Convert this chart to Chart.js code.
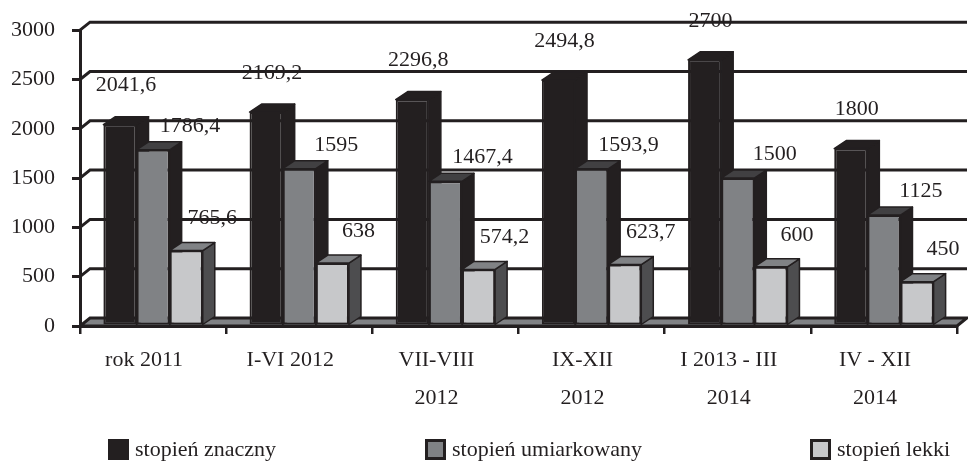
<!DOCTYPE html>
<html>
<head>
<meta charset="utf-8">
<script src="https://cdn.jsdelivr.net/npm/chart.js@4"></script>
<style>
  body { margin: 0; background: #fff; }
  #wrap { position: relative; width: 968px; height: 464px; }
  .leg { position: absolute; top: 436px; display: flex; align-items: center; font: 22px "Liberation Serif", "Times New Roman", serif; color: #231f20; white-space: nowrap; }
  .leg i { display: inline-block; width: 21px; height: 21px; box-sizing: border-box; margin-right: 6px; }
</style>
</head>
<body>
<div id="wrap">
  <canvas id="chart" width="968" height="464"></canvas>
  <div class="leg" style="left:108px"><i style="background:#231f20"></i>stopień znaczny</div>
  <div class="leg" style="left:425px"><i style="background:#808285;border:3px solid #231f20"></i>stopień umiarkowany</div>
  <div class="leg" style="left:810px"><i style="background:#c7c8ca;border:3px solid #231f20"></i>stopień lekki</div>
</div>
<script>
const categories = ['rok 2011', 'I-VI 2012', ['VII-VIII', '2012'], ['IX-XII', '2012'], ['I 2013 - III', '2014'], ['IV - XII', '2014']];
const seriesNames = ['stopień znaczny', 'stopień umiarkowany', 'stopień lekki'];
const znaczny = [2041.6, 2169.2, 2296.8, 2494.8, 2700, 1800];
const umiarkowany = [1786.4, 1595, 1467.4, 1593.9, 1500, 1125];
const lekki = [765.6, 638, 574.2, 623.7, 600, 450];

const INK = '#231f20';
const FONT = '"Liberation Serif", "Times New Roman", serif';
// front, top, side colours + label offset for each series
const looks = [
  { front: '#231f20', top: '#231f20', side: '#231f20', lx: 6, ly: -39 },
  { front: '#808285', top: '#414042', side: '#231f20', lx: 37, ly: -24 },
  { front: '#c7c8ca', top: '#808285', side: '#4d4d4f', lx: 26, ly: -32 }
];
const BAR_DX = 12, BAR_DY = -8;
const WALL_DX = 10, WALL_DY = -8;

const fmt = v => String(v).replace('.', ',');

const threeD = {
  id: 'threeD',
  beforeDatasetsDraw(chart) {
    const { ctx, chartArea: a, scales: { y } } = chart;
    ctx.save();
    // floor
    ctx.beginPath();
    ctx.moveTo(a.left, a.bottom);
    ctx.lineTo(a.right, a.bottom);
    ctx.lineTo(a.right + WALL_DX, a.bottom + WALL_DY);
    ctx.lineTo(a.left + WALL_DX, a.bottom + WALL_DY);
    ctx.closePath();
    ctx.fillStyle = '#808285';
    ctx.fill();
    ctx.strokeStyle = INK;
    ctx.lineWidth = 3;
    ctx.stroke();
    // back wall grid
    y.ticks.forEach(t => {
      if (t.value === 0) return;
      const py = y.getPixelForValue(t.value);
      ctx.beginPath();
      ctx.moveTo(a.left, py);
      ctx.lineTo(a.left + WALL_DX, py + WALL_DY);
      ctx.lineTo(a.right + WALL_DX, py + WALL_DY);
      ctx.stroke();
    });
    // top and side faces, left series first; the fronts come after and cover what is hidden
    ctx.lineWidth = 1.5;
    ctx.lineJoin = 'round';
    chart.data.datasets.forEach((ds, i) => {
      const look = looks[i];
      chart.getDatasetMeta(i).data.forEach(bar => {
        const { x, y: top, base, width } = bar.getProps(['x', 'y', 'base', 'width'], true);
        const l = x - width / 2, r = x + width / 2;
        ctx.beginPath();
        ctx.moveTo(r, top);
        ctx.lineTo(r + BAR_DX, top + BAR_DY);
        ctx.lineTo(r + BAR_DX, base + BAR_DY);
        ctx.lineTo(r, base);
        ctx.closePath();
        ctx.fillStyle = look.side;
        ctx.fill();
        ctx.stroke();
        ctx.beginPath();
        ctx.moveTo(l, top);
        ctx.lineTo(r, top);
        ctx.lineTo(r + BAR_DX, top + BAR_DY);
        ctx.lineTo(l + BAR_DX, top + BAR_DY);
        ctx.closePath();
        ctx.fillStyle = look.top;
        ctx.fill();
        ctx.stroke();
      });
    });
    ctx.restore();
  },
  afterDatasetsDraw(chart) {
    const { ctx } = chart;
    ctx.save();
    ctx.font = '22px ' + FONT;
    ctx.fillStyle = INK;
    ctx.textAlign = 'center';
    ctx.textBaseline = 'middle';
    chart.data.datasets.forEach((ds, i) => {
      const look = looks[i];
      chart.getDatasetMeta(i).data.forEach((bar, j) => {
        ctx.fillText(fmt(ds.data[j]), bar.x + look.lx, bar.y + look.ly);
      });
    });
    ctx.restore();
  }
};

new Chart(document.getElementById('chart'), {
  type: 'bar',
  data: {
    labels: categories,
    datasets: [
      { label: seriesNames[0], data: znaczny },
      { label: seriesNames[1], data: umiarkowany },
      { label: seriesNames[2], data: lekki }
    ].map((d, i) => Object.assign(d, {
      backgroundColor: looks[i].front,
      borderColor: INK,
      borderWidth: 2,
      borderSkipped: false,
      categoryPercentage: 0.68,
      barPercentage: 1.0
    }))
  },
  options: {
    responsive: false,
    animation: false,
    layout: { padding: { left: 10, right: 11, top: 20, bottom: 48 } },
    plugins: { legend: { display: false }, tooltip: { enabled: false } },
    scales: {
      x: {
        grid: { display: true, drawOnChartArea: false, drawTicks: true, tickLength: 8, color: INK, lineWidth: 2.5, offset: true },
        border: { display: true, color: INK, width: 3 },
        ticks: { color: INK, font: { family: FONT, size: 22, lineHeight: 1.72 }, padding: 7, labelOffset: -9, maxRotation: 0, autoSkip: false },
        afterFit: s => { s.height = 90; }
      },
      y: {
        min: 0,
        max: 3000,
        ticks: { stepSize: 500, color: INK, font: { family: FONT, size: 22 }, padding: 17, callback: v => String(v) },
        grid: { display: true, drawOnChartArea: false, drawTicks: true, tickLength: 8, color: INK, lineWidth: 3 },
        border: { display: true, color: INK, width: 3 },
        afterFit: s => { s.width = 70; }
      }
    }
  },
  plugins: [threeD]
});
</script>
</body>
</html>
